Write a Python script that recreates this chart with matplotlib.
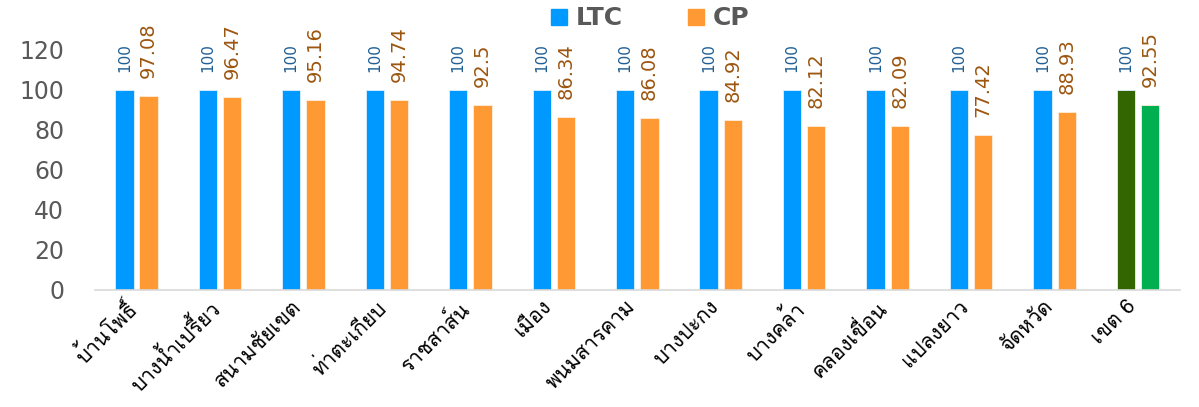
import matplotlib
matplotlib.use("Agg")
import matplotlib.pyplot as plt
import matplotlib.transforms as mtransforms
from matplotlib import font_manager
from matplotlib.ft2font import FT2Font
import numpy as np

categories = ["บ้านโพธิ์", "บางน้ำเปรี้ยว", "สนามชัยเขต", "ท่าตะเกียบ", "ราชสาส์น",
              "เมือง", "พนมสารคาม", "บางปะกง", "บางคล้า", "คลองเขื่อน",
              "แปลงยาว", "จัดหวัด", "เขต 6"]
ltc = [100, 100, 100, 100, 100, 100, 100, 100, 100, 100, 100, 100, 100]
cp = [97.08, 96.47, 95.16, 94.74, 92.5, 86.34, 86.08, 84.92, 82.12, 82.09,
      77.42, 88.93, 92.55]
cp_labels = ["97.08", "96.47", "95.16", "94.74", "92.5", "86.34", "86.08",
             "84.92", "82.12", "82.09", "77.42", "88.93", "92.55"]


def find_thai_font():
    # pick any installed font that actually has Thai glyphs
    for f in font_manager.fontManager.ttflist:
        try:
            if 0x0E1A in FT2Font(f.fname).get_charmap():
                return f.name
        except Exception:
            continue
    return None


thai = find_thai_font()
label_family = [thai, "DejaVu Sans"] if thai else ["DejaVu Sans"]

blue, orange = "#0099FF", "#FF9933"
dgreen, green = "#336600", "#00B050"
ltc_colors = [blue] * 12 + [dgreen]
cp_colors = [orange] * 12 + [green]

fig = plt.figure(figsize=(11.99, 4.07), dpi=100)
ax = fig.add_axes([0.079, 0.2875, 0.905, 0.59])

x = np.arange(len(categories))
off, w = 0.145, 0.22
ax.bar(x - off, ltc, w, color=ltc_colors, edgecolor="#dff0ff", linewidth=0.6)
ax.bar(x + off, cp, w, color=cp_colors, edgecolor="#ffeedd", linewidth=0.6)

for xi, v in zip(x, ltc):
    ax.annotate(str(v), (xi - off, v), xytext=(0, 13), textcoords="offset points",
                rotation=90, ha="center", va="bottom", fontsize=11, color="#1F5F95")
for xi, v, s in zip(x, cp, cp_labels):
    ax.annotate(s, (xi + off, v), xytext=(0, 13), textcoords="offset points",
                rotation=90, ha="center", va="bottom", fontsize=14, color="#9C5610")

ax.set_ylim(0, 120)
ax.set_xlim(-0.5, len(categories) - 0.5)
ax.set_yticks([0, 20, 40, 60, 80, 100, 120])
ax.tick_params(axis="y", length=0, labelsize=17, labelcolor="#595959", pad=22)
ax.tick_params(axis="x", length=0, pad=5)
ax.set_xticks(x)
ax.set_xticklabels(categories, rotation=45, ha="right", va="top",
                   rotation_mode="anchor", fontsize=15, family=label_family)
# nudge the slanted labels left so they sit under the blue bar like the original
shift = mtransforms.ScaledTranslation(-12 / 100, 0, fig.dpi_scale_trans)
for lab in ax.get_xticklabels():
    lab.set_transform(lab.get_transform() + shift)
for s in ["top", "right", "left"]:
    ax.spines[s].set_visible(False)
ax.spines["bottom"].set_color("#D9D9D9")
ax.spines["bottom"].set_linewidth(1.2)

h1 = plt.Line2D([], [], marker="s", linestyle="none", color=blue, markersize=12)
h2 = plt.Line2D([], [], marker="s", linestyle="none", color=orange, markersize=12)
leg = fig.legend([h1, h2], ["LTC", "CP"], loc="center", bbox_to_anchor=(0.542, 0.955),
                 ncol=2, frameon=False, handlelength=0.7, handletextpad=0.3,
                 columnspacing=2.6, prop={"size": 18, "weight": "bold"})
for t in leg.get_texts():
    t.set_color("#595959")

fig.savefig("out.png", dpi=100)
